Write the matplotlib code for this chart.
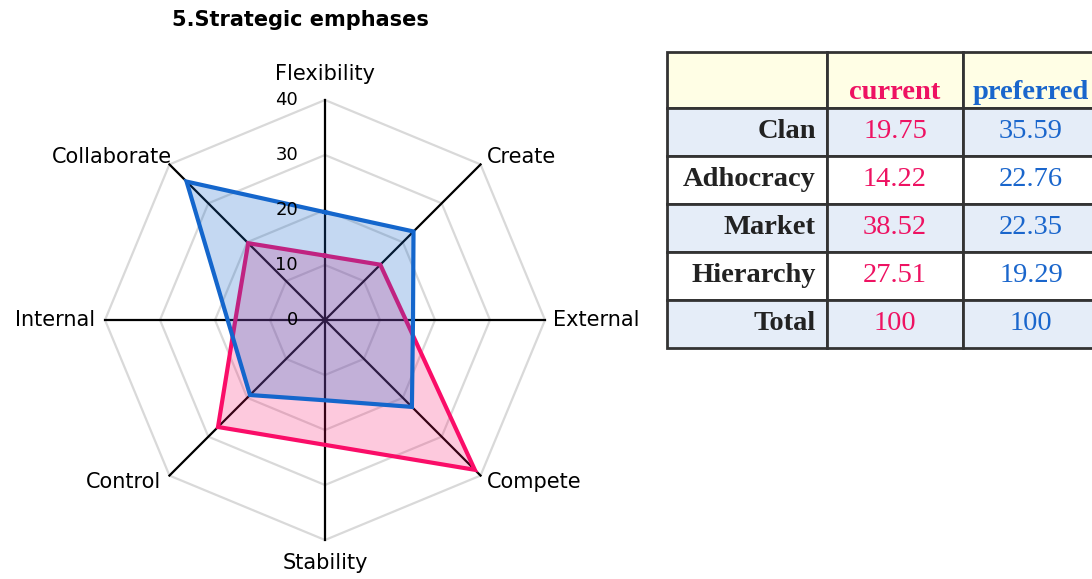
import numpy as np
import matplotlib.pyplot as plt
from matplotlib.table import Table

# radar data (8 directions, clockwise from top)
axis_names = ["Flexibility", "Create", "External", "Compete",
              "Stability", "Control", "Internal", "Collaborate"]
current_vals = [11.7, 14.22, 14.7, 38.52, 22.7, 27.51, 16.3, 19.75]
preferred_vals = [19.6, 22.76, 16.0, 22.35, 14.6, 19.29, 17.7, 35.59]
ring_levels = [10, 20, 30, 40]
tick_levels = [0, 10, 20, 30, 40]

# table data
row_names = ["Clan", "Adhocracy", "Market", "Hierarchy", "Total"]
current_tbl = ["19.75", "14.22", "38.52", "27.51", "100"]
preferred_tbl = ["35.59", "22.76", "22.35", "19.29", "100"]
col_heads = ["", "current", "preferred"]

PINK = "#fa0d68"
BLUE = "#1466cc"
PINK_TXT = "#ee1262"
BLUE_TXT = "#1a66cc"

fig = plt.figure(figsize=(10.92, 5.79), dpi=100)

# ---- radar ----
ax = fig.add_axes([105 / 1092, 39 / 579, 440 / 1092, 440 / 579], projection="polar")
ax.set_theta_zero_location("N")
ax.set_theta_direction(-1)
ax.set_ylim(0, 40)
ax.set_axis_off()

theta = np.deg2rad(np.arange(len(axis_names)) * 45.0)
closed = np.append(theta, theta[0])

for r in ring_levels:
    ax.plot(closed, [r] * len(closed), color="#d9d9d9", lw=1.6, zorder=1, clip_on=False)
for t in theta:
    ax.plot([t, t], [0, 40], color="black", lw=1.6, zorder=2, clip_on=False)

for vals, col, fa in [(current_vals, PINK, 0.22), (preferred_vals, BLUE, 0.25)]:
    v = np.append(vals, vals[0])
    ax.plot(closed, v, color=col, lw=3.0, zorder=3, solid_joinstyle="miter", clip_on=False)
    ax.fill(closed, v, color=col, alpha=fa, lw=0, zorder=3)

for r in tick_levels:
    ax.annotate(str(r), xy=(0, r), xytext=(-27, 0), textcoords="offset pixels",
                ha="right", va="center", fontsize=13, family="DejaVu Sans")

label_pos = [((0, 16), "center", "bottom"),
             ((6, 7), "left", "center"),
             ((8, 0), "left", "center"),
             ((6, -6), "left", "center"),
             ((0, -13), "center", "top"),
             ((-8, -6), "right", "center"),
             ((-10, 0), "right", "center"),
             ((3, 7), "right", "center")]
for t, name, (off, ha, va) in zip(theta, axis_names, label_pos):
    ax.annotate(name, xy=(t, 40), xytext=off, textcoords="offset pixels",
                ha=ha, va=va, fontsize=15, family="DejaVu Sans")

fig.text(300 / 1092, 1 - 20 / 579, "5.Strategic emphases", ha="center", va="center",
         fontsize=15, fontweight="bold", family="DejaVu Sans")

# ---- table ----
col_w = [160, 136, 136]
head_h, row_h = 56, 48
tw = sum(col_w)
th = head_h + row_h * len(row_names)
tax = fig.add_axes([667 / 1092, (579 - 348) / 579, tw / 1092, th / 579])
tax.set_axis_off()

tbl = Table(tax, bbox=[0, 0, 1, 1])
row_colors = ["#e5edf8", "#ffffff", "#e5edf8", "#ffffff", "#e5edf8"]
for c, w in enumerate(col_w):
    tbl.add_cell(0, c, w / tw, head_h / th, text="", facecolor="#fffee5",
                 edgecolor="#333333")
for r, name in enumerate(row_names, start=1):
    texts = [name, current_tbl[r - 1], preferred_tbl[r - 1]]
    colors = ["#222222", PINK_TXT, BLUE_TXT]
    for c, w in enumerate(col_w):
        cell = tbl.add_cell(r, c, w / tw, row_h / th, text=texts[c],
                            loc="right" if c == 0 else "center",
                            facecolor=row_colors[r - 1], edgecolor="#333333")
        txt = cell.get_text()
        txt.set_color(colors[c])
        txt.set_fontfamily("Liberation Serif")
        txt.set_fontsize(20.5)
        if c == 0:
            txt.set_fontweight("bold")
for cell in tbl.get_celld().values():
    cell.set_linewidth(2)
    cell.PAD = 0.07
tbl.auto_set_font_size(False)
tax.add_table(tbl)

# header labels (sit low in the taller header row)
x0 = col_w[0]
for c, (head, col) in enumerate([(col_heads[1], PINK_TXT), (col_heads[2], BLUE_TXT)]):
    xc = (x0 + col_w[c + 1] / 2 + sum(col_w[1:c + 1])) / tw
    tax.text(xc, (th - 47) / th, head, ha="center", va="baseline", color=col,
             fontsize=20.5, fontweight="bold", family="Liberation Serif",
             transform=tax.transAxes)

fig.savefig("out.png", dpi=100)
